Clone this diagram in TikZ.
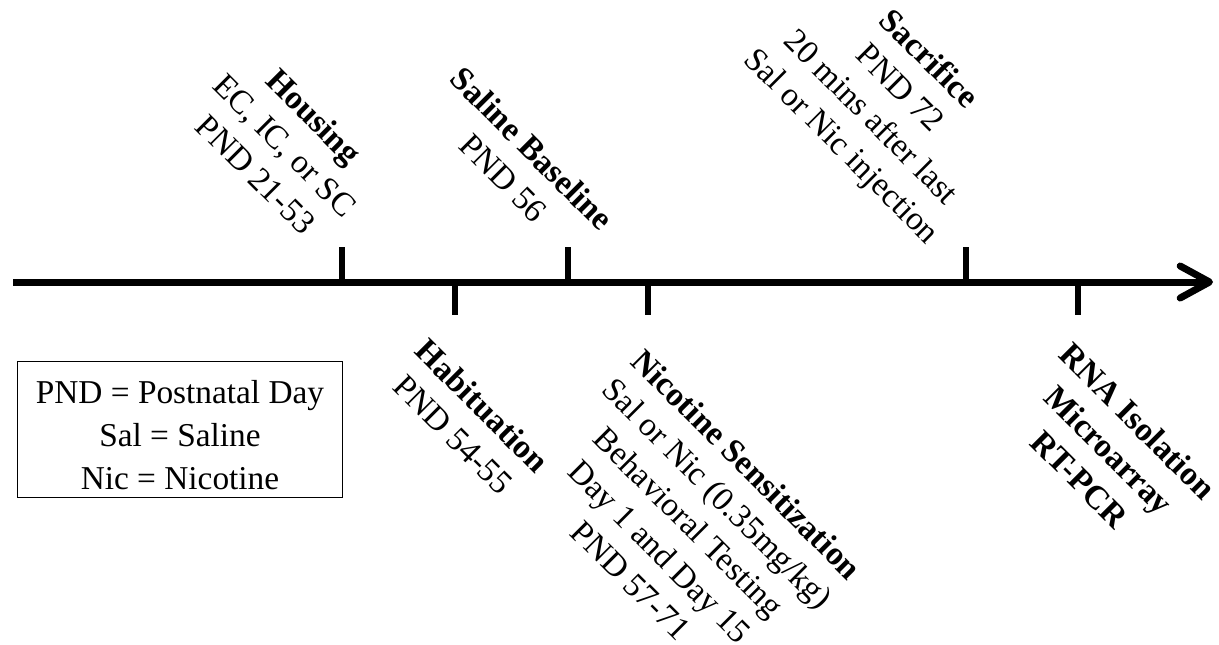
\documentclass[tikz,border=0pt]{standalone}
\usepackage{fontspec}
\setmainfont{Liberation Serif}
\usetikzlibrary{arrows.meta, positioning}

\tikzset{
  axis/.style={line width=5.25pt, -{Straight Barb[length=22pt, width=24pt, round]}},
  tick/.style={line width=4.5pt},
  event/.style={rotate=-45, align=center, inner sep=0pt, font=\fontsize{25}{30.75}\selectfont},
  keybox/.style={draw, line width=0.75pt, minimum width=243.75pt, minimum height=102pt},
  keytext/.style={align=center, inner sep=0pt, font=\fontsize{25}{32}\selectfont}
}

\begin{document}
\begin{tikzpicture}[x=0.75pt, y=-0.75pt]
\useasboundingbox (0,0) rectangle (1219,644);

%% time axis
\coordinate (start) at (13,282);
\coordinate (end) at (1213,282);
\draw[axis] (start) -- (end);

%% events above the axis
\coordinate (housing) at (342,282);
\coordinate (housing top) at (342,247);
\draw[tick] (housing) -- (housing top);
\node[event] (housing lbl) at (285,145) {\textbf{Housing}\\EC, IC, or SC\\PND 21-53};

\coordinate (baseline) at (568,282);
\coordinate (baseline top) at (568,247);
\draw[tick] (baseline) -- (baseline top);
\node[event] (baseline lbl) at (518,163) {\textbf{Saline Baseline}\\PND 56};

\coordinate (sacrifice) at (966,282);
\coordinate (sacrifice top) at (966,247);
\draw[tick] (sacrifice) -- (sacrifice top);
\node[event] (sacrifice lbl) at (884,104) {\textbf{Sacrifice}\\PND 72\\20 mins after last\\Sal or Nic injection};

%% events below the axis
\coordinate (habituation) at (455,282);
\coordinate (habituation bot) at (455,315);
\draw[tick] (habituation) -- (habituation bot);
\node[event] (habituation lbl) at (468,420) {\textbf{Habituation}\\PND 54-55};

\coordinate (nicotine) at (648,282);
\coordinate (nicotine bot) at (648,315);
\draw[tick] (nicotine) -- (nicotine bot);
\node[event] (nicotine lbl) at (689,522) {\textbf{Nicotine Sensitization}\\Sal or Nic (0.35mg/kg)\\Behavioral Testing\\Day 1 and Day 15\\PND 57-71};

\coordinate (rna) at (1078,282);
\coordinate (rna bot) at (1078,315);
\draw[tick] (rna) -- (rna bot);
\node[event, font=\fontsize{25}{30.75}\selectfont\bfseries] (rna lbl) at (1109,450) {RNA Isolation\\Microarray\\RT-PCR};

%% abbreviations
\node[keybox] (key) at (179.5,429) {};
\node[keytext] (key text) at (180,435) {PND = Postnatal Day\\Sal = Saline\\Nic = Nicotine};

\end{tikzpicture}
\end{document}
